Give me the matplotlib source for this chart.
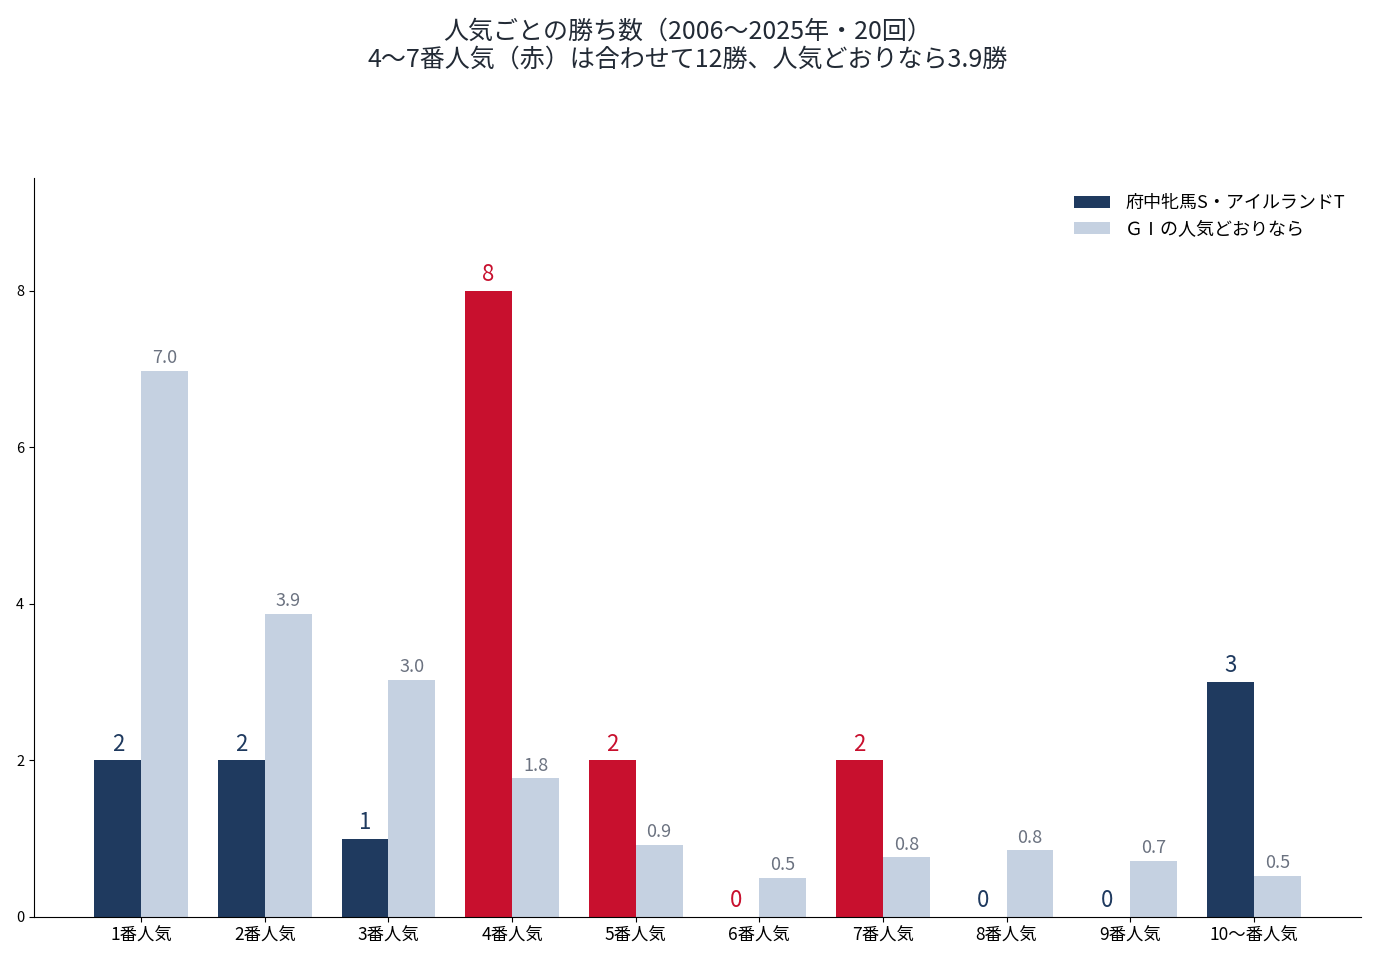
import numpy as np
import matplotlib
matplotlib.use("Agg")
import matplotlib.pyplot as plt

plt.rcParams['font.family'] = ['Noto Sans CJK JP', 'DejaVu Sans']

# data
categories = ['1番人気', '2番人気', '3番人気', '4番人気', '5番人気',
              '6番人気', '7番人気', '8番人気', '9番人気', '10〜番人気']
wins = [2, 2, 1, 8, 2, 0, 2, 0, 0, 3]
expected = [6.98, 3.87, 3.03, 1.77, 0.92, 0.50, 0.76, 0.85, 0.72, 0.52]
highlight = [False, False, False, True, True, True, True, False, False, False]

NAVY = '#1f3a5f'
RED = '#c8102e'
LIGHT = '#c5d1e1'

fig = plt.figure(figsize=(13.76, 9.6), dpi=100)
ax = fig.add_axes([0.0247, 0.0448, 0.9644, 0.7698])

x = np.arange(len(categories))
w = 0.38
dark_colors = [RED if h else NAVY for h in highlight]
ax.bar(x - w / 2, wins, w, color=dark_colors, label='府中牝馬S・アイルランドT')
ax.bar(x + w / 2, expected, w, color=LIGHT, label='ＧⅠの人気どおりなら')

for xi, v, c in zip(x, wins, dark_colors):
    ax.text(xi - w / 2, v + 0.06, f'{v}', ha='center', va='bottom',
            fontsize=16, color=c)
for xi, v in zip(x, expected):
    ax.text(xi + w / 2, v + 0.05, f'{v:.1f}', ha='center', va='bottom',
            fontsize=13, color='#6b7280')

ax.set_ylim(0, 9.44)
ax.set_xticks(x)
ax.set_xticklabels(categories, fontsize=12.5)
ax.set_yticks([0, 2, 4, 6, 8])
ax.tick_params(axis='y', labelsize=10.5)
ax.spines['top'].set_visible(False)
ax.spines['right'].set_visible(False)

ax.legend(loc='upper right', frameon=False, fontsize=13,
          bbox_to_anchor=(1.0, 1.0), handlelength=2.0,
          handletextpad=0.85, labelspacing=0.45)

fig.suptitle('人気ごとの勝ち数（2006〜2025年・20回）\n'
             '4〜7番人気（赤）は合わせて12勝、人気どおりなら3.9勝',
             fontsize=18, color='#222a35', y=0.981, linespacing=1.1)

fig.savefig('out.png', dpi=100)
